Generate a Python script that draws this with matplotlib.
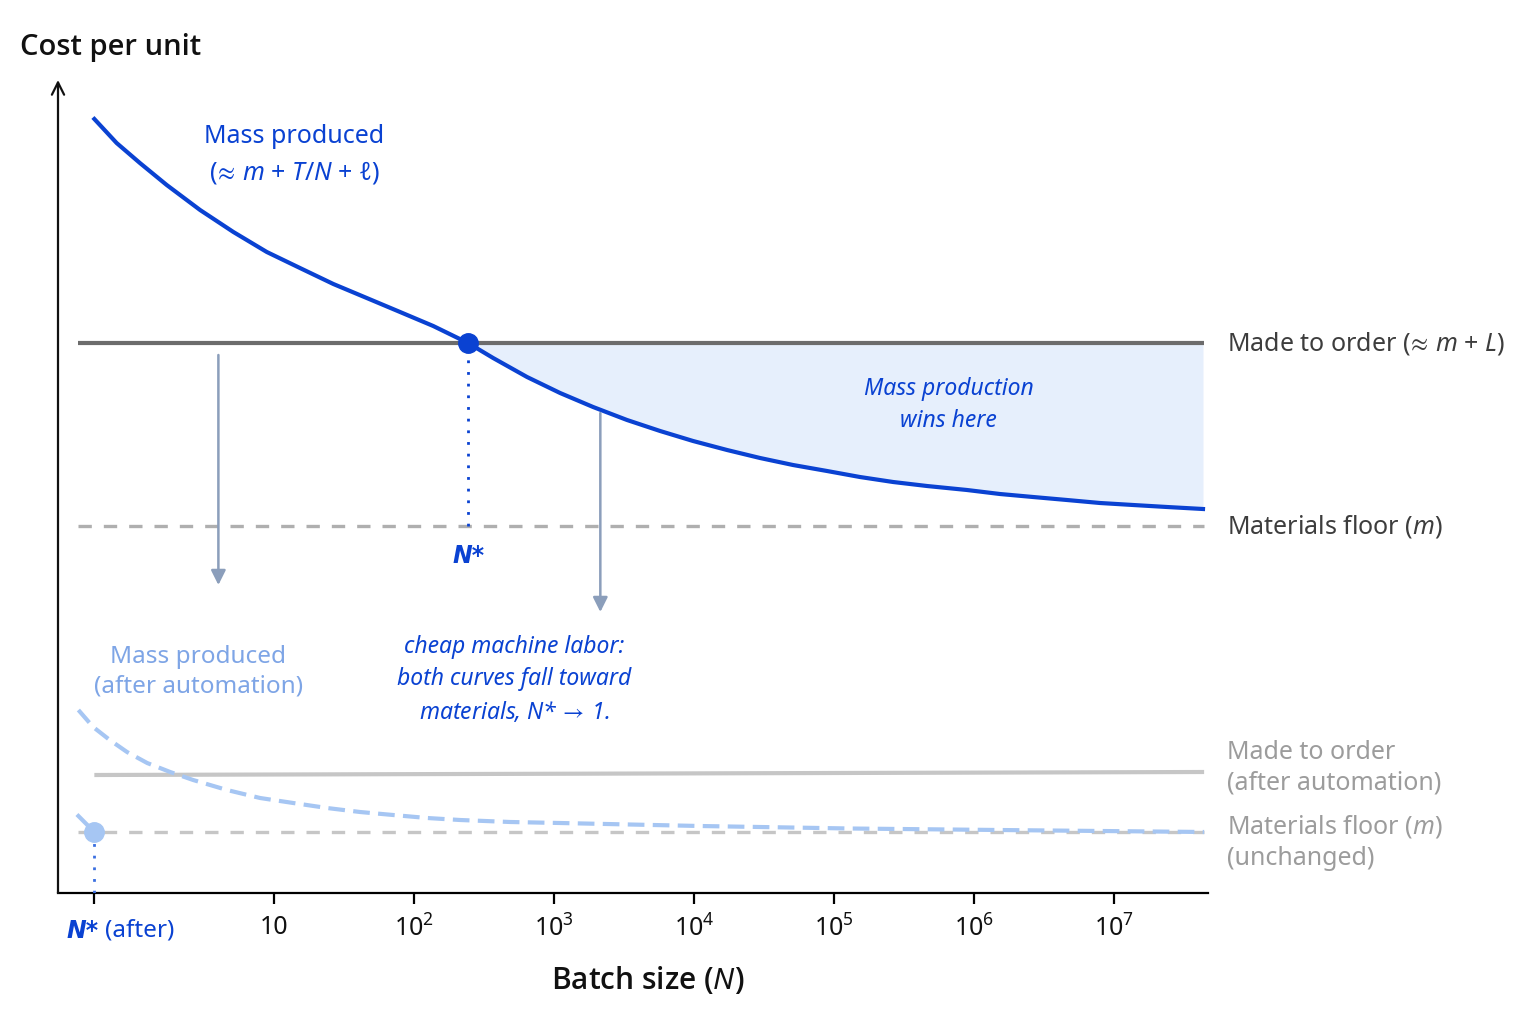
import numpy as np
import matplotlib.pyplot as plt

plt.rcParams['font.family'] = ['Noto Sans', 'DejaVu Sans']
plt.rcParams['mathtext.fontset'] = 'custom'
plt.rcParams['mathtext.rm'] = 'Noto Sans'
plt.rcParams['mathtext.it'] = 'Noto Sans:italic'
plt.rcParams['mathtext.bf'] = 'Noto Sans:bold'
plt.rcParams['mathtext.fallback'] = 'stixsans'

# mass produced, before automation (batch size, cost per unit)
mass_n = [0.52, 0.75, 1.1, 1.71, 2.96, 5.12, 8.87, 15.3, 26.5, 45.9, 79.4, 137, 243,
          367, 641, 1104, 1900, 3320, 5720, 9840, 17200, 29600, 50900, 89100,
          1.53e5, 2.64e5, 4.61e5, 8.91e5, 1.53e6, 2.64e6, 4.61e6, 7.94e6, 1.37e7, 2.39e7, 4.32e7]
mass_cost = [7.74, 7.50, 7.30, 7.08, 6.83, 6.61, 6.41, 6.25, 6.09, 5.95, 5.81, 5.67, 5.50,
             5.35, 5.16, 5.00, 4.86, 4.73, 4.62, 4.52, 4.43, 4.35, 4.28, 4.22,
             4.16, 4.11, 4.07, 4.03, 3.99, 3.96, 3.93, 3.90, 3.88, 3.86, 3.84]

# mass produced, after automation
auto_n = [0.40, 0.51, 0.67, 0.89, 1.24, 1.81, 2.64, 4.61, 7.94, 13.7, 23.9, 41.1, 70.8,
          124, 213, 485, 1100, 11000, 1.3e5, 1.5e6, 4.4e7]
auto_cost = [1.83, 1.66, 1.53, 1.41, 1.30, 1.21, 1.13, 1.03, 0.95, 0.90, 0.85, 0.81, 0.78,
             0.75, 0.73, 0.71, 0.70, 0.67, 0.645, 0.63, 0.61]
auto_tail_n = [0.40, 0.52]
auto_tail_cost = [0.77, 0.61]

# flat reference lines
line_n = [0.40, 4.4e7]
made_to_order = [5.50, 5.50]
materials_floor = [3.67, 3.67]
auto_line_n = [0.52, 4.4e7]
made_to_order_auto = [1.18, 1.21]
materials_floor_auto = [0.61, 0.61]

# break-even points
n_star, cost_star = 243, 5.50
n_star_after, cost_star_after = 0.52, 0.61

# "automation" arrows (x, from, to)
arrows = [(4.0, 5.38, 3.08), (2140, 4.80, 2.81)]

tick_pos = [n_star_after, 10, 1e2, 1e3, 1e4, 1e5, 1e6, 1e7]
tick_labels = ['', '10', '$10^{2}$', '$10^{3}$', '$10^{4}$', '$10^{5}$', '$10^{6}$', '$10^{7}$']

blue = '#0a42d2'
light_blue = '#a6c6f3'
light_text = '#7ea5e6'
dark_gray = '#6c6c6c'
floor_gray = '#afafaf'
pale_gray = '#c6c6c6'
arrow_col = '#8b9ebb'

fig = plt.figure(figsize=(15.36, 10.24), dpi=100)
ax = fig.add_axes([58 / 1536, 131 / 1024, 1150 / 1536, 813 / 1024])
ax.set_xscale('log')
ax.set_xlim(0.286, 4.69e7)
ax.set_ylim(0, 8.13)

# shaded region where mass production wins
mn = np.array(mass_n)
mc = np.array(mass_cost)
keep = mn >= n_star
ax.fill_between(mn[keep], mc[keep], made_to_order[0], color='#e6effc', lw=0, zorder=1)

# before automation
ax.plot(line_n, made_to_order, color=dark_gray, lw=3, solid_capstyle='butt', zorder=2)
ax.plot(line_n, materials_floor, color=floor_gray, lw=2.4, ls=(0, (4, 3.6)), zorder=2)
ax.plot(mass_n, mass_cost, color=blue, lw=3, zorder=3, solid_joinstyle='round')
ax.plot([n_star, n_star], [materials_floor[0], cost_star], color=blue, lw=2, ls=(0, (1, 3.2)), zorder=3)
ax.plot([n_star], [cost_star], 'o', color=blue, ms=14, zorder=4)

# after automation
ax.plot(auto_line_n, made_to_order_auto, color=pale_gray, lw=3, solid_capstyle='butt', zorder=2)
ax.plot(line_n, materials_floor_auto, color=pale_gray, lw=2.4, ls=(0, (4, 3.6)), zorder=2)
ax.plot(auto_n, auto_cost, color=light_blue, lw=3, ls=(0, (4, 2)), zorder=3)
ax.plot(auto_tail_n, auto_tail_cost, color=light_blue, lw=3, zorder=3)
ax.plot([n_star_after, n_star_after], [0, cost_star_after], color='#3a6fe0', lw=2, ls=(0, (1, 3.2)), zorder=3)
ax.plot([n_star_after], [cost_star_after], 'o', color=light_blue, ms=14, zorder=4)

for x, y0, y1 in arrows:
    ax.annotate('', xy=(x, y1), xytext=(x, y0),
                arrowprops=dict(arrowstyle='-|>', color=arrow_col, lw=1.8,
                                mutation_scale=22, shrinkA=0, shrinkB=0))

# axes
for s in ['top', 'right', 'left']:
    ax.spines[s].set_visible(False)
ax.spines['bottom'].set_linewidth(1.6)
ax.annotate('', xy=(0, 1), xytext=(0, 0), xycoords='axes fraction',
            arrowprops=dict(arrowstyle='->', color='#111111', lw=1.6,
                            mutation_scale=22, shrinkA=0, shrinkB=0))
ax.set_yticks([])
ax.set_xticks(tick_pos)
ax.set_xticklabels(tick_labels, fontsize=18, color='#111111')
ax.minorticks_off()
ax.tick_params(axis='x', direction='out', length=8, width=1.6, pad=8)

ax.annotate('N*', xy=(n_star_after, 0), xycoords=('data', 'axes fraction'),
            xytext=(4, -38), textcoords='offset pixels', ha='right', va='center',
            fontsize=17, color=blue, fontweight='bold', fontstyle='italic', family='DejaVu Sans')
ax.annotate('(after)', xy=(n_star_after, 0), xycoords=('data', 'axes fraction'),
            xytext=(11, -38), textcoords='offset pixels', ha='left', va='center',
            fontsize=17.5, color=blue)

# curve labels
ax.text(14, 7.38, 'Mass produced\n($\\!{\\approx}\\,m$ + $T$/$N$ + $\\ell$)', ha='center', va='center',
        fontsize=18, color=blue, linespacing=1.45)
ax.text(6.6e5, 4.88, 'Mass production\nwins here', ha='center', va='center',
        fontsize=16.5, color=blue, fontstyle='italic', linespacing=1.45)
ax.text(n_star, 3.37, 'N*', ha='center', va='center', fontsize=17, color=blue,
        fontweight='bold', fontstyle='italic', family='DejaVu Sans')
ax.text(2.87, 2.21, 'Mass produced\n(after automation)', ha='center', va='center',
        fontsize=17.5, color=light_text, linespacing=1.3)
ax.text(518, 2.13, 'cheap machine labor:\nboth curves fall toward\nmaterials, $N$*$\\,{\\rightarrow}\\,$1.',
        ha='center', va='center', fontsize=16.5, color=blue, fontstyle='italic', linespacing=1.45)

right_labels = [
    ('Made to order ($\\!{\\approx}\\,m$ + $L$)', made_to_order[0], '#3d3d3d'),
    ('Materials floor ($m$)', materials_floor[0], '#3d3d3d'),
    ('Made to order\n(after automation)', 1.25, '#9c9c9c'),
    ('Materials floor ($m$)\n(unchanged)', 0.51, '#9c9c9c'),
]
for txt, y, c in right_labels:
    ax.annotate(txt, xy=(line_n[1], y), xytext=(23, 0), textcoords='offset pixels',
                ha='left', va='center', fontsize=18, color=c, linespacing=1.3,
                annotation_clip=False)

fig.text(20 / 1536, 1 - 48 / 1024, 'Cost per unit', ha='left', va='center',
         fontsize=21, color='#111111', fontweight='semibold', family='Open Sans')
fig.text(648 / 1536, 1 - 980 / 1024, 'Batch size ($N$)', ha='center', va='center',
         fontsize=21.5, color='#111111', fontweight='semibold', family='Open Sans')

fig.savefig('out.png', dpi=100, facecolor='white')
